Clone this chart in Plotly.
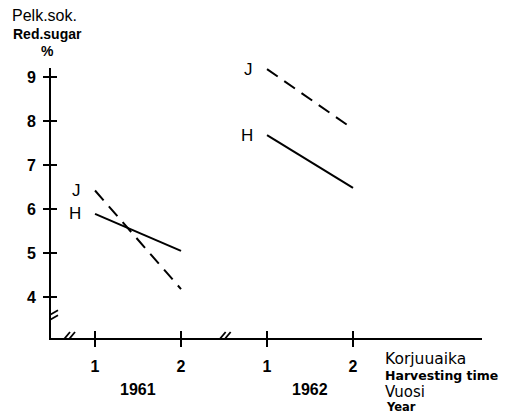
import plotly.graph_objects as go

# Harvest positions on a shared axis: 1961 (1, 2) and 1962 (3, 4)
harvest_pos = [1, 2, 3, 4]
harvest_labels = ["1", "2", "1", "2"]
years = ["1961", "1962"]
year_pos = [1.5, 3.5]

# Reducing sugar, %
j_1961 = [6.42, 4.18]
h_1961 = [5.89, 5.05]
j_1962 = [9.18, 7.82]
h_1962 = [7.68, 6.48]
y_ticks = [4, 5, 6, 7, 8, 9]

X_RANGE = [0.488, 5.5]
Y_RANGE = [3.068, 9.205]
FONT = "Liberation Sans, Arial, sans-serif"
WIDE = "DejaVu Sans, sans-serif"
INK = "black"

fig = go.Figure()

series = [
    (harvest_pos[0:2], j_1961, "dash"),
    (harvest_pos[0:2], h_1961, "solid"),
    (harvest_pos[2:4], j_1962, "dash"),
    (harvest_pos[2:4], h_1962, "solid"),
]
for xs, ys, dash in series:
    fig.add_trace(go.Scatter(
        x=xs, y=ys, mode="lines",
        line=dict(color=INK, width=2, dash="13px,8px" if dash == "dash" else "solid"),
        hoverinfo="skip", showlegend=False,
    ))

# helper trace so the overlay axes (inner half of the cross ticks) get drawn
fig.add_trace(go.Scatter(x=[None], y=[None], xaxis="x2", yaxis="y2",
                         mode="lines", showlegend=False, hoverinfo="skip"))

axis_common = dict(showgrid=False, zeroline=False, tickcolor=INK, tickwidth=2)

fig.update_layout(
    width=514, height=414,
    margin=dict(l=51, r=32, t=68, b=76),
    paper_bgcolor="white", plot_bgcolor="white",
    font=dict(family=FONT, color=INK),
    xaxis=dict(range=X_RANGE, showline=True, linewidth=2, linecolor=INK,
               ticks="outside", ticklen=7, tickvals=harvest_pos, ticktext=harvest_labels,
               tickfont=dict(size=16, weight="bold", color=INK), ticklabelstandoff=6,
               **axis_common),
    yaxis=dict(range=Y_RANGE, showline=True, linewidth=2, linecolor=INK,
               ticks="outside", ticklen=6, tickvals=y_ticks,
               tickfont=dict(size=16, weight="bold", color=INK), ticklabelstandoff=4,
               **axis_common),
    xaxis2=dict(range=X_RANGE, overlaying="x", anchor="y2", ticks="inside", ticklen=7,
                tickvals=harvest_pos, showticklabels=False, showline=False, **axis_common),
    yaxis2=dict(range=Y_RANGE, overlaying="y", anchor="x2", ticks="inside", ticklen=6,
                tickvals=y_ticks, showticklabels=False, showline=False, **axis_common),
)

# Axis break marks (pairs of short slanted strokes)
def break_mark(xa, ya, dx, dy, offsets):
    for ox, oy in offsets:
        fig.add_shape(type="line", xref="x", yref="y",
                      xsizemode="pixel", ysizemode="pixel",
                      xanchor=xa, yanchor=ya,
                      x0=-dx + ox, x1=dx + ox, y0=-dy + oy, y1=dy + oy,
                      line=dict(color=INK, width=1.8))

break_mark(X_RANGE[0], 3.55, 7, 4, [(0, 2.5), (0, -2.5)])
break_mark(0.68, Y_RANGE[0], 5, 6, [(-2.5, 0), (2.5, 0)])
break_mark(2.49, Y_RANGE[0], 5, 6, [(-2.5, 0), (2.5, 0)])

annotations = []

# Series labels beside the first point of each line
for xs, ys, name in [(harvest_pos[0:2], j_1961, "J"), (harvest_pos[0:2], h_1961, "H"),
                     (harvest_pos[2:4], j_1962, "J"), (harvest_pos[2:4], h_1962, "H")]:
    annotations.append(dict(x=xs[0], y=ys[0], xref="x", yref="y", text=name,
                            showarrow=False, xanchor="right", xshift=-12,
                            font=dict(size=17, family=FONT, color=INK)))

# Year labels under each harvest pair
for yr, xp in zip(years, year_pos):
    annotations.append(dict(x=xp, y=0, xref="x", yref="paper", text=yr, showarrow=False,
                            yanchor="middle", yshift=-51,
                            font=dict(size=16, weight="bold", family=FONT, color=INK)))

# Y axis title block
annotations += [
    dict(x=11, y=16, text="Pelk.sok.", font=dict(size=16)),
    dict(x=12, y=34, text="Red.sugar", font=dict(size=14, weight="bold")),
    dict(x=40, y=51, text="%", font=dict(size=14, weight="bold")),
]
# X axis title block
annotations += [
    dict(x=384, y=359, text="Korjuuaika", font=dict(size=15.5, family=WIDE)),
    dict(x=384, y=375.5, text="Harvesting time", font=dict(size=12.5, weight="bold", family=WIDE)),
    dict(x=384, y=391.5, text="Vuosi", font=dict(size=15, family=WIDE)),
    dict(x=385, y=407, text="Year", font=dict(size=11.5, weight="bold", family=WIDE)),
]

for a in annotations:
    if "xref" not in a:
        px, py = a.pop("x"), a.pop("y")
        a.update(xref="paper", yref="paper",
                 x=(px - 51) / (514 - 51 - 32), y=(414 - 76 - py) / (414 - 68 - 76),
                 xanchor="left", yanchor="middle", showarrow=False, borderpad=0)
        a["font"] = dict(family=a["font"].pop("family", FONT), color=INK, **a["font"])

fig.update_layout(annotations=annotations)

fig.write_html("out.html")
